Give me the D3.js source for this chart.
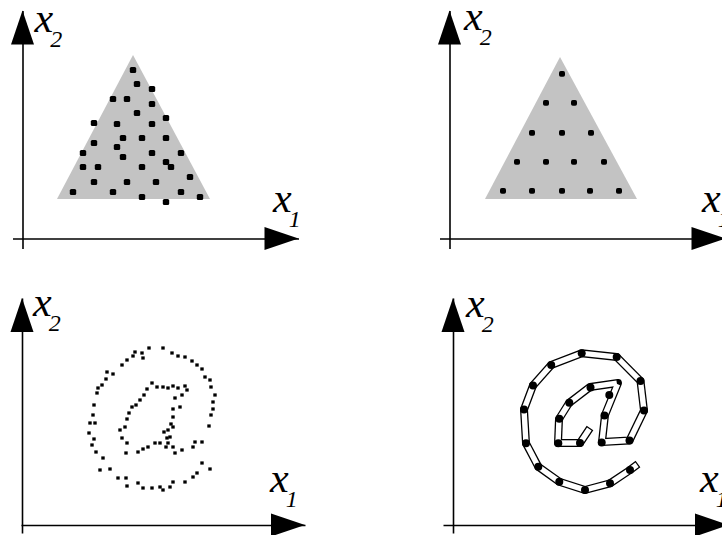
<!DOCTYPE html>
<html>
<head>
<meta charset="utf-8">
<script src="https://cdn.jsdelivr.net/npm/d3@7"></script>
<style>
  html, body { margin: 0; padding: 0; background: #fff; }
  svg { display: block; }
  .title { font-family: "Liberation Serif", "Times New Roman", serif; font-style: italic; }
</style>
</head>
<body>
<svg id="chart" width="722" height="535"></svg>
<script>
// ---- data (x1, x2 coordinates of every panel, origin at the axes' crossing) ----

// Panel A: a triangular region sampled at random
const regionA = [[34.5, 39.5], [110.5, 183.5], [187.5, 39.5]];
const samplesA = [
  [110.5,168.5],[114.5,154.5],[129.5,149.5],[90.5,139.5],[104.5,139.5],[129.5,134.5],
  [114.5,125.5],[143.5,120.5],[71.5,115.5],[94.5,114.5],[129.5,114.5],[100.5,100.5],
  [119.5,100.5],[143.5,100.5],[71.5,95.5],[94.5,91.5],[60.5,85.5],[129.5,85.5],
  [158.5,85.5],[100.5,81.5],[143.5,76.5],[148.5,71.5],[60.5,71.5],[75.5,71.5],
  [119.5,71.5],[71.5,56.5],[104.5,56.5],[133.5,56.5],[167.5,61.5],[50.5,46.5],
  [90.5,46.5],[158.5,46.5],[119.5,41.5],[177.5,41.5],[143.5,36.5]
];

// Panel B: the same region sampled on a regular lattice
const regionB = [[35.5, 39.5], [110.5, 181.5], [187.5, 39.5]];
const latticeRowsB = [164.5, 135.5, 105.5, 76.5, 47.5];
const latticeColsB = [
  [112.5],
  [96.5, 124.5],
  [82.5, 112.5, 141.5],
  [67.5, 96.5, 124.5, 154.5],
  [53.5, 82.5, 112.5, 140.5, 169.5]
];

// Panel C: a dense scatter tracing an "@"
const samplesC = [
  [113,173],[120,172],[121,167],[127,177],[141,177],[150,172],[156,169],[163,168],
  [170,164],[175,160],[180,156],[183,148],[188,145],[189,138],[193,130],[191,123],
  [191,116],[189,110],[187,99],[180,83],[180,62],[188,56],[175,52],[171,48],
  [163,43],[151,43],[148,38],[141,35],[138,38],[130,37],[121,37],[116,42],
  [105,39],[104,47],[96,47],[88,56],[78,55],[81,67],[74,73],[70,80],
  [72,86],[67,92],[68,102],[73,102],[71,110],[72,120],[75,132],[76,137],
  [80,140],[84,146],[85,153],[91,151],[100,160],[105,165],[111,169],
  [130,142],[135,138],[141,138],[146,137],[151,139],[156,137],[163,139],[165,135],
  [160,130],[153,127],[158,118],[151,116],[151,108],[149,101],[151,98],[146,95],
  [142,93],[145,87],[148,88],[146,82],[144,78],[151,78],[153,72],[160,75],
  [171,78],[173,83],
  [125,136],[122,130],[118,125],[114,120],[110,118],[107,112],[105,106],[103,98],
  [98,95],[100,87],[105,82],[104,72],[116,73],[121,76],[126,78],[133,82],[138,82]
];

// Panel D: the "@" as a chained outline through a few representative points
const outlineD = [
  [137,97],[127,82],[105,82],[106,106],[116,122],[137,138],[165,142],[152,110],
  [149,83],[176.5,84.5],[191,114.5],[187.5,144],[163.7,168],[128.7,171.7],
  [98.2,160],[80,139.5],[71,115.5],[73,81.7],[85.3,58.3],[106.3,43.3],
  [132,35],[157,41.7],[177,55],[185,61]
];
const nodesD = [
  [128.7,171.7],[163.7,168],[187.5,144],[191,114.5],[176.5,84.5],[177,55],
  [157,41.7],[132,35],[106.3,43.3],[85.3,58.3],[73,81.7],[71,115.5],[80,139.5],
  [98.2,160],
  [137.5,137.5],[156.3,130],[151.5,109.5],[148.7,82.5],[127,82],[105.3,81.7],
  [106.3,106.2],[116.3,122.3]
];

// Axis titles
const xTitle = ["x", "1"];
const yTitle = ["x", "2"];

// ---- layout ----
const panels = [
  { key: "A", ox: 22.5, oy: 238.5, xMin: -10, xMax: 276, yMin: -10, yMax: 228,
    yLab: [12, 206.5], xLab: [250.5, 26.5] },
  { key: "B", ox: 449.5, oy: 238.5, xMin: -10, xMax: 276, yMin: -10, yMax: 228,
    yLab: [14.5, 208.5], xLab: [252.5, 26.5] },
  { key: "C", ox: 22, oy: 525, xMin: -1, xMax: 283, yMin: -8, yMax: 227,
    yLab: [11, 209], xLab: [248, 33] },
  { key: "D", ox: 453, oy: 525, xMin: -10, xMax: 276, yMin: -8, yMax: 227,
    yLab: [13, 208], xLab: [247, 33] }
];

const svg = d3.select("#chart");
const ARROW_LEN = 34, ARROW_HALF = 11.5;

panels.forEach(p => {
  const g = svg.append("g").attr("class", "panel panel-" + p.key);
  const x = d3.scaleLinear().domain([p.xMin, p.xMax]).range([p.ox + p.xMin, p.ox + p.xMax]);
  const y = d3.scaleLinear().domain([p.yMin, p.yMax]).range([p.oy - p.yMin, p.oy - p.yMax]);

  // axes: bare domain lines with no ticks
  const xAxis = d3.axisBottom(x).tickValues([]).tickSizeOuter(0);
  const yAxis = d3.axisLeft(y).tickValues([]).tickSizeOuter(0);
  g.append("g").attr("transform", `translate(0,${y(0)})`).call(xAxis)
    .select(".domain").attr("stroke", "#000").attr("stroke-width", 1.6);
  g.append("g").attr("transform", `translate(${x(0)},0)`).call(yAxis)
    .select(".domain").attr("stroke", "#000").attr("stroke-width", 1.6);

  // arrowheads at the positive ends
  const xt = x(p.xMax), yt = y(p.yMax);
  g.append("path")
    .attr("d", `M${xt},${y(0)} L${xt - ARROW_LEN},${y(0) - ARROW_HALF} L${xt - ARROW_LEN},${y(0) + ARROW_HALF} Z`)
    .attr("fill", "#000");
  g.append("path")
    .attr("d", `M${x(0)},${yt} L${x(0) - ARROW_HALF},${yt + ARROW_LEN} L${x(0) + ARROW_HALF},${yt + ARROW_LEN} Z`)
    .attr("fill", "#000");

  // axis titles
  const addTitle = (pos, parts) => {
    const t = g.append("text").attr("class", "title")
      .attr("x", x(pos[0])).attr("y", y(pos[1]))
      .attr("font-size", 42).attr("fill", "#000");
    t.append("tspan").text(parts[0]);
    t.append("tspan").attr("dx", -3).attr("dy", 15).attr("font-size", 24).text(parts[1]);
  };
  addTitle(p.yLab, yTitle);
  addTitle(p.xLab, xTitle);

  const line = d3.line().x(d => x(d[0])).y(d => y(d[1]));

  if (p.key === "A") {
    g.append("path").attr("d", line(regionA) + "Z").attr("fill", "#c3c3c3");
    g.selectAll("rect.s").data(samplesA).join("rect").attr("class", "s")
      .attr("x", d => x(d[0]) - 3.2).attr("y", d => y(d[1]) - 3)
      .attr("width", 6.4).attr("height", 6).attr("rx", 1.6).attr("fill", "#000");
  }
  if (p.key === "B") {
    g.append("path").attr("d", line(regionB) + "Z").attr("fill", "#c3c3c3");
    const pts = latticeRowsB.flatMap((r, i) => latticeColsB[i].map(c => [c, r]));
    g.selectAll("rect.s").data(pts).join("rect").attr("class", "s")
      .attr("x", d => x(d[0]) - 3).attr("y", d => y(d[1]) - 3)
      .attr("width", 6).attr("height", 5.8).attr("rx", 1.8).attr("fill", "#000");
  }
  if (p.key === "C") {
    g.selectAll("rect.s").data(samplesC).join("rect").attr("class", "s")
      .attr("x", d => x(d[0]) - 1.7).attr("y", d => y(d[1]) - 1.6)
      .attr("width", 3.4).attr("height", 3.2).attr("fill", "#000");
  }
  if (p.key === "D") {
    // chain outline: a black band, then a white core on each link
    g.append("path").attr("d", line(outlineD))
      .attr("fill", "none").attr("stroke", "#000").attr("stroke-width", 8)
      .attr("stroke-linejoin", "round");
    const links = d3.pairs(outlineD);
    g.selectAll("line.link").data(links).join("line").attr("class", "link")
      .each(function([a, b]) {
        const x1 = x(a[0]), y1 = y(a[1]), x2 = x(b[0]), y2 = y(b[1]);
        const len = Math.hypot(x2 - x1, y2 - y1), ux = (x2 - x1) / len, uy = (y2 - y1) / len;
        d3.select(this)
          .attr("x1", x1 + ux * 1.2).attr("y1", y1 + uy * 1.2)
          .attr("x2", x2 - ux * 1.2).attr("y2", y2 - uy * 1.2);
      })
      .attr("stroke", "#fff").attr("stroke-width", 5.4);
    g.selectAll("circle.n").data(nodesD).join("circle").attr("class", "n")
      .attr("cx", d => x(d[0])).attr("cy", d => y(d[1])).attr("r", 4).attr("fill", "#000");
  }
});
</script>
</body>
</html>
